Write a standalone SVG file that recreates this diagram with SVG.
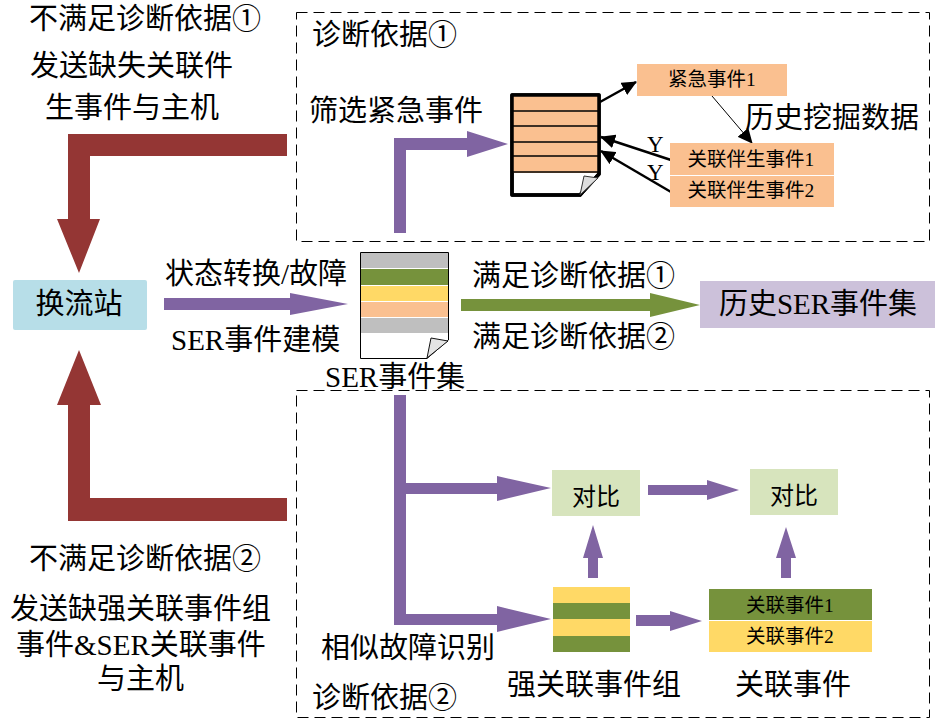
<svg xmlns="http://www.w3.org/2000/svg" width="935" height="721" viewBox="0 0 935 721">
<style>
text{font-family:"Liberation Serif","Noto Sans CJK SC",serif;fill:#000}
.l{font-size:29px}
.s{font-size:19.5px;text-anchor:middle}
.dash{fill:none;stroke:#000;stroke-width:1;stroke-dasharray:11 6}
.red{fill:#943634}.pur{fill:#8064A2}.grn{fill:#76923C}
.or{fill:#FAC090}.ye{fill:#FFD966}.gy{fill:#BFBFBF}
.blk{stroke:#000;stroke-width:2.5;fill:none;marker-end:url(#a)}
</style>
<defs>
<marker id="a" markerUnits="userSpaceOnUse" markerWidth="16" markerHeight="14" refX="14" refY="7" orient="auto"><path d="M0 0L15 7L0 14Z" fill="#000"/></marker>
</defs>
<rect width="935" height="721" fill="#fff"/>
<g id="frames">
<rect class="dash" x="296.5" y="12.5" width="633" height="229"/>
<rect class="dash" x="296.5" y="390.5" width="633" height="327"/>
</g>
<g id="connectors">
<path class="red" d="M287 134V156H90V219H100L79 273L57 219H68V134Z"/>
<path class="red" d="M287 498V521H68V405H57L79 350L101 405H90V498Z"/>
<path class="pur" d="M164 298H290V293L348 304L290 315V310H164Z"/>
<path class="pur" d="M394 233V138H467V131L508 144L467 157V150H406V233Z"/>
<path class="grn" d="M461 299H650V293L700 305L650 317V311H461Z"/>
<path class="pur" d="M394 395H406V483H497V476L551 488L497 501V494H406V614H497V606L551 619L497 632V625H394Z"/>
<path class="pur" d="M648 485H707V480L739 490L707 500V495H648Z"/>
<path class="pur" d="M588 578V558H583L593 525L603 558H598V578Z"/>
<path class="pur" d="M781 578V558H776L786 527L796 558H791V578Z"/>
<path class="pur" d="M636 615H670V611L702 621L670 631V626H636Z"/>
<path class="blk" d="M600 102L636 82"/>
<path d="M712 96L752 143" stroke="#000" stroke-width="1" fill="none" marker-end="url(#a)"/>
<path class="blk" d="M671 160L601 137"/>
<path class="blk" d="M671 192L601 151"/>
</g>
<g id="station"><rect x="13" y="280" width="134" height="50" rx="2" fill="#B7DEE8"/><text class="l" x="79" y="314" text-anchor="middle">换流站</text></g>
<g id="ser-set">
<path d="M361 253H448V340L427 358H361Z" fill="#fff"/>
<rect class="gy" x="361" y="253" width="87" height="15"/>
<rect class="grn" x="361" y="269" width="87" height="16"/>
<rect class="ye" x="361" y="286" width="87" height="15"/>
<rect class="or" x="361" y="302" width="87" height="15"/>
<rect class="gy" x="361" y="318" width="87" height="15"/>
<path d="M360.500 252.500H448.500V340L427 358.500H360.500Z" fill="none" stroke="#000" stroke-width="1"/>
<path d="M427 358L431 338L448 341Z" fill="#E4E4E4" stroke="#111" stroke-width="1"/>
<text class="l" x="325" y="387">SER事件集</text>
</g>
<g id="history-set"><rect x="700" y="281" width="235" height="47" fill="#CCC1DA"/><text class="l" x="818" y="314" text-anchor="middle">历史SER事件集</text></g>
<g id="urgent-doc">
<path d="M512 95H599V174L580 195H512Z" fill="#fff" stroke="#000" stroke-width="3.5" stroke-linejoin="round"/>
<rect class="or" x="513" y="96" width="85" height="77"/>
<path d="M513 111H598M513 126H598M513 142H598M513 156H598M513 172H598" stroke="#000" stroke-width="1.500"/>
<path d="M512 95H599V174L580 195H512Z" fill="none" stroke="#000" stroke-width="3.5" stroke-linejoin="round"/>
<path d="M580 195L584 176L598 178Z" fill="#DDD" stroke="#333" stroke-width="1"/>
</g>
<g id="urgent-event"><rect class="or" x="637" y="64" width="150" height="32"/><text class="s" x="712" y="86">紧急事件1</text></g>
<g id="assoc-1"><rect class="or" x="670" y="143" width="164" height="32"/><text class="s" x="751" y="166">关联伴生事件1</text></g>
<g id="assoc-2"><rect class="or" x="670" y="176" width="164" height="31"/><text class="s" x="751" y="197">关联伴生事件2</text></g>
<g id="compare-1"><rect x="552" y="470" width="88" height="46" fill="#D7E4BD"/><text class="s" x="596" y="505" style="font-size:24px">对比</text></g>
<g id="compare-2"><rect x="750" y="469" width="88" height="46" fill="#D7E4BD"/><text class="s" x="794" y="504" style="font-size:24px">对比</text></g>
<g id="strong-group">
<rect class="ye" x="553" y="587" width="77" height="16"/>
<rect class="grn" x="553" y="603" width="77" height="16"/>
<rect class="ye" x="553" y="619" width="77" height="17"/>
<rect class="grn" x="553" y="636" width="77" height="16"/>
</g>
<g id="related-1"><rect class="grn" x="709" y="589" width="163" height="31"/><text class="s" x="790" y="612">关联事件1</text></g>
<g id="related-2"><rect class="ye" x="709" y="621" width="163" height="31"/><text class="s" x="790" y="643">关联事件2</text></g>
<g id="labels">
<text class="l" x="29" y="29">不满足诊断依据①</text>
<text class="l" x="30" y="76">发送缺失关联件</text>
<text class="l" x="45" y="118">生事件与主机</text>
<text class="l" x="312" y="45">诊断依据①</text>
<text class="l" x="309" y="121">筛选紧急事件</text>
<text class="l" x="745" y="128">历史挖掘数据</text>
<text x="647" y="152" font-size="23">Y</text>
<text x="647" y="180" font-size="23">Y</text>
<text class="l" x="165" y="284">状态转换/故障</text>
<text class="l" x="171" y="350">SER事件建模</text>
<text class="l" x="472" y="286">满足诊断依据①</text>
<text class="l" x="472" y="347">满足诊断依据②</text>
<text class="l" x="29" y="569">不满足诊断依据②</text>
<text class="l" x="10" y="619">发送缺强关联事件组</text>
<text class="l" x="16" y="655">事件&amp;SER关联事件</text>
<text class="l" x="97" y="689">与主机</text>
<text class="l" x="321" y="658">相似故障识别</text>
<text class="l" x="312" y="708">诊断依据②</text>
<text class="l" x="507" y="695">强关联事件组</text>
<text class="l" x="735" y="695">关联事件</text>
</g>
</svg>
